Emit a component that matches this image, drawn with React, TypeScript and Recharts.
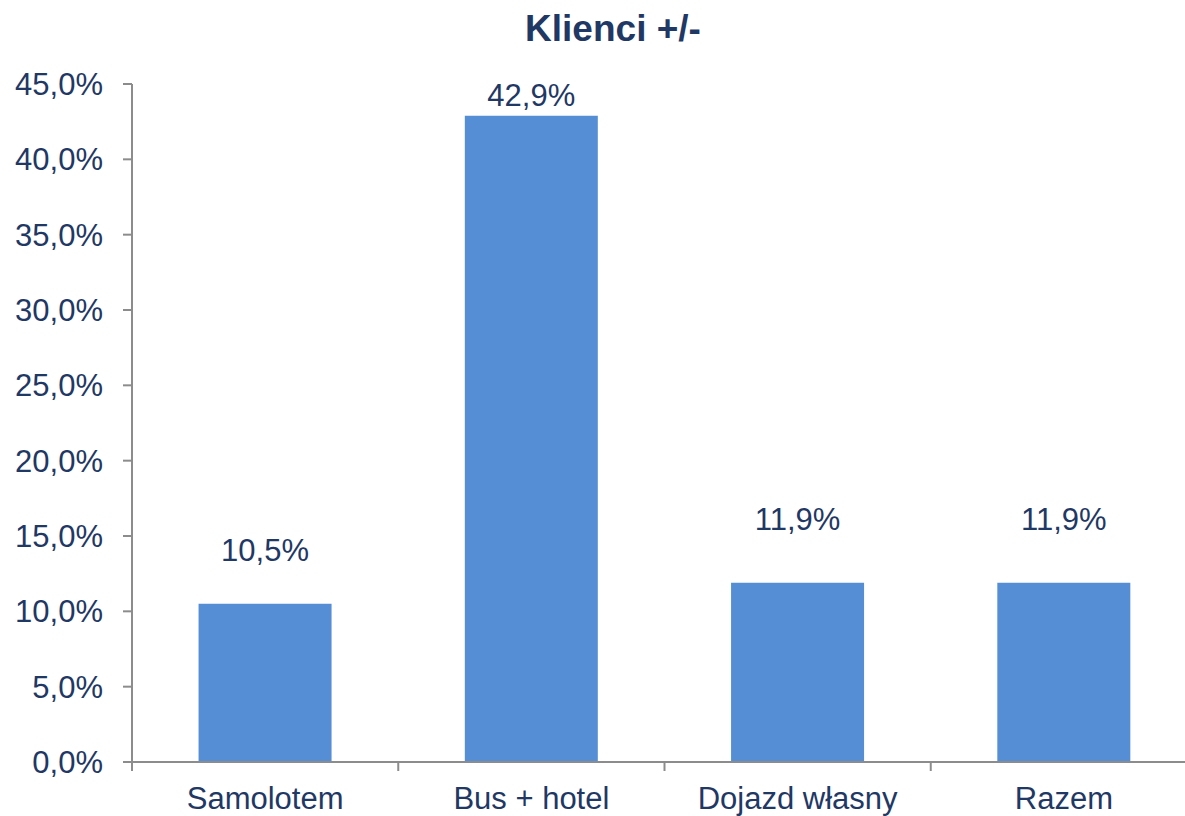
import React from 'react';
import { BarChart, Bar, XAxis, YAxis, LabelList } from 'recharts';

const categories = ['Samolotem', 'Bus + hotel', 'Dojazd własny', 'Razem'];
const clientChange = [10.5, 42.9, 11.9, 11.9];
const yTicks = [0, 5, 10, 15, 20, 25, 30, 35, 40, 45];

// how far each value label sits above its bar (baseline), as in the original slide
const labelLift = [43, 10, 53, 53];

const TEXT = '#1F3864';
const BAR = '#558ED5';
const AXIS = '#8C8C8C';
const FONT = '"Liberation Sans", Arial, sans-serif';

const fmt = (v: number) => `${v.toFixed(1).replace('.', ',')}%`;

const data = categories.map((name, i) => ({ name, value: clientChange[i] }));

function ValueLabel(props: any) {
  const { x, y, width, value, index } = props;
  return (
    <text
      x={x + width / 2}
      y={y - labelLift[index]}
      textAnchor="middle"
      fill={TEXT}
      fontSize={31}
      fontFamily={FONT}
    >
      {fmt(value)}
    </text>
  );
}

// category label plus Excel-style tick marks on the category boundaries
function CategoryTick(props: any) {
  const { x, y, payload, index, visibleTicksCount } = props;
  const half = payload.offset || 0;
  const axisY = y - 25;
  const last = index === visibleTicksCount - 1;
  return (
    <g>
      <line x1={x - half} x2={x - half} y1={axisY} y2={axisY + 9} stroke={AXIS} strokeWidth={2} />
      {last && <line x1={x + half} x2={x + half} y1={axisY} y2={axisY + 9} stroke={AXIS} strokeWidth={2} />}
      <text x={x} y={y} dy="0.71em" textAnchor="middle" fill={TEXT} fontSize={31} fontFamily={FONT}>
        {payload.value}
      </text>
    </g>
  );
}

export default function App() {
  return (
    <div style={{ position: 'absolute', left: 0, top: 0, width: 1185, height: 816, background: '#fff', overflow: 'hidden' }}>
      <BarChart
        width={1185}
        height={816}
        data={data}
        margin={{ top: 84, right: -12, bottom: 0, left: 0 }}
        barCategoryGap="25%"
      >
        <text x={613} y={41} textAnchor="middle" fill={TEXT} fontSize={37} fontWeight="bold" fontFamily={FONT}>
          Klienci +/-
        </text>
        <XAxis
          dataKey="name"
          height={54}
          axisLine={{ stroke: AXIS, strokeWidth: 2 }}
          tickLine={false}
          tickSize={9}
          tickMargin={16}
          interval={0}
          tick={<CategoryTick />}
        />
        <YAxis
          domain={[0, 45]}
          ticks={yTicks}
          width={132}
          tickSize={9}
          tickMargin={20}
          tickFormatter={fmt}
          axisLine={{ stroke: AXIS, strokeWidth: 2 }}
          tickLine={{ stroke: AXIS, strokeWidth: 2 }}
          tick={{ fill: TEXT, fontSize: 31, fontFamily: FONT }}
        />
        <Bar dataKey="value" fill={BAR} isAnimationActive={false}>
          <LabelList dataKey="value" content={<ValueLabel />} />
        </Bar>
      </BarChart>
    </div>
  );
}
